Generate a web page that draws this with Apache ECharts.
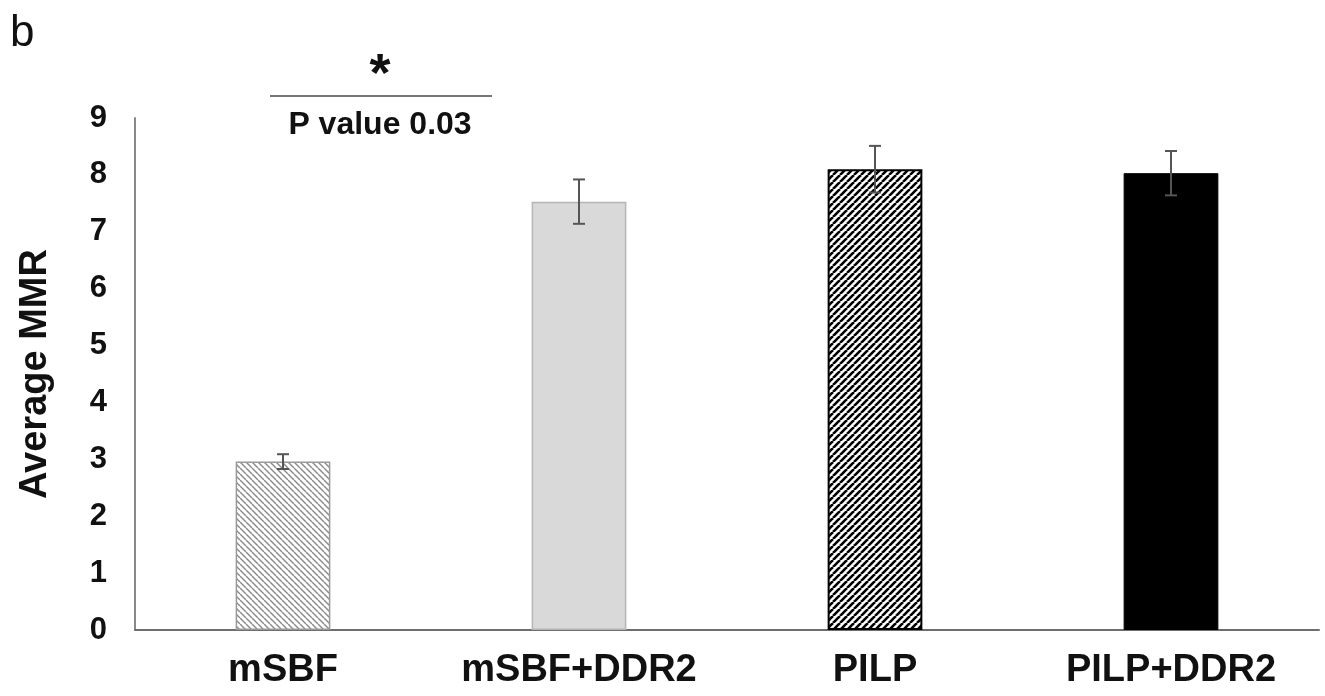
<!DOCTYPE html>
<html>
<head>
<meta charset="utf-8">
<script src="https://cdn.jsdelivr.net/npm/echarts@6/dist/echarts.min.js"></script>
<style>
html,body{margin:0;padding:0;background:#fff;}
#chart{width:1325px;height:696px;}
</style>
</head>
<body>
<div id="chart"></div>
<script>
const categories = ['mSBF', 'mSBF+DDR2', 'PILP', 'PILP+DDR2'];
const means = [2.96, 7.53, 8.10, 8.03];
const errors = [0.13, 0.39, 0.41, 0.39];
const yTicks = [0, 1, 2, 3, 4, 5, 6, 7, 8, 9];
const yAxisName = 'Average MMR';
const panelLabel = 'b';
const sigStar = '*';
const sigText = 'P value 0.03';

function hatch(size, bg, fg, lw, dir) {
  const c = document.createElement('canvas');
  c.width = size; c.height = size;
  const ctx = c.getContext('2d');
  ctx.fillStyle = bg; ctx.fillRect(0, 0, size, size);
  ctx.strokeStyle = fg; ctx.lineWidth = lw;
  for (let k = -1; k <= 1; k++) {
    ctx.beginPath();
    if (dir === 'back') { ctx.moveTo(k * size, 0); ctx.lineTo(k * size + size, size); }
    else { ctx.moveTo(k * size, size); ctx.lineTo(k * size + size, 0); }
    ctx.stroke();
  }
  return c;
}

const styles = [
  { color: { image: hatch(6, '#ffffff', '#8a8a8a', 1.4, 'back'), repeat: 'repeat' }, borderColor: '#9a9a9a', borderWidth: 1.5 },
  { color: '#d9d9d9', borderColor: '#b5b5b5', borderWidth: 1.5 },
  { color: { image: hatch(7, '#ffffff', '#000000', 2.6, 'fwd'), repeat: 'repeat' }, borderColor: '#000', borderWidth: 2 },
  { color: '#000000', borderColor: '#000', borderWidth: 1 }
];

const chart = echarts.init(document.getElementById('chart'));
const FONT = '"Liberation Sans", Arial, sans-serif';

chart.setOption({
  animation: false,
  backgroundColor: '#fff',
  grid: { left: 135, right: 6, top: 118, bottom: 66, containLabel: false },
  xAxis: {
    type: 'category',
    data: categories,
    axisLine: { lineStyle: { color: '#6e6e6e', width: 2 } },
    axisTick: { show: false },
    axisLabel: { interval: 0, hideOverlap: false, color: '#111', fontFamily: FONT, fontWeight: 'bold', fontSize: 38, margin: 22 }
  },
  yAxis: {
    type: 'value',
    min: 0, max: 9, interval: 1,
    name: yAxisName,
    nameLocation: 'middle',
    nameGap: 80,
    nameTextStyle: { color: '#111', fontFamily: FONT, fontWeight: 'bold', fontSize: 38 },
    axisLine: { show: true, lineStyle: { color: '#8a8a8a', width: 2 } },
    axisTick: { show: false },
    splitLine: { show: false },
    axisLabel: { color: '#111', fontFamily: FONT, fontWeight: 'bold', fontSize: 31, margin: 28,
      formatter: v => yTicks.includes(v) ? String(v) : '' }
  },
  series: [
    {
      type: 'bar',
      barWidth: '32%',
      data: means.map((v, i) => ({ value: v, itemStyle: styles[i] }))
    },
    {
      type: 'custom',
      z: 10,
      data: means.map((v, i) => [i, v, errors[i]]),
      renderItem: function (params, api) {
        const i = api.value(0), m = api.value(1), e = api.value(2);
        const top = api.coord([i, m + e]);
        const bot = api.coord([i, m - e]);
        const hw = 6;
        const st = { stroke: '#555', lineWidth: 2 };
        return {
          type: 'group',
          children: [
            { type: 'line', shape: { x1: top[0], y1: top[1], x2: bot[0], y2: bot[1] }, style: st },
            { type: 'line', shape: { x1: top[0] - hw, y1: top[1], x2: top[0] + hw, y2: top[1] }, style: st },
            { type: 'line', shape: { x1: bot[0] - hw, y1: bot[1], x2: bot[0] + hw, y2: bot[1] }, style: st }
          ]
        };
      }
    }
  ],
  graphic: [
    { type: 'text', left: 10, top: 12, style: { text: panelLabel, font: '44px ' + FONT, fill: '#111' } },
    { type: 'text', x: 380, y: 76, style: { text: sigStar, font: 'bold 54px ' + FONT, fill: '#111', align: 'center', verticalAlign: 'middle' } },
    { type: 'line', shape: { x1: 270, y1: 96, x2: 492, y2: 96 }, style: { stroke: '#777', lineWidth: 2 } },
    { type: 'text', x: 380, y: 125, style: { text: sigText, font: 'bold 32px ' + FONT, fill: '#111', align: 'center', verticalAlign: 'middle' } }
  ]
});
</script>
</body>
</html>
